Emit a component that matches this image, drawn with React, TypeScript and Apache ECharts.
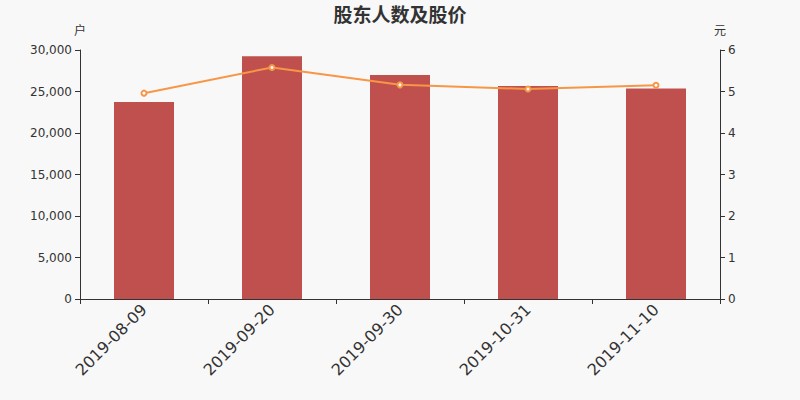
import React, { useEffect, useRef } from "react";
import * as echarts from "echarts";

const categories = ["2019-08-09", "2019-09-20", "2019-09-30", "2019-10-31", "2019-11-10"];
const holders = [23730, 29250, 27000, 25660, 25350];
const prices = [4.96, 5.58, 5.16, 5.06, 5.15];

export default function App() {
  const ref = useRef<HTMLDivElement>(null);
  useEffect(() => {
    if (!ref.current) return;
    const chart = echarts.init(ref.current, null, { renderer: "svg" });
    const axisText = { color: "#333", fontSize: 12, fontFamily: "DejaVu Sans" };
    chart.setOption({
      animation: false,
      backgroundColor: "#f8f8f8",
      title: {
        text: "股东人数及股价",
        left: "center",
        top: 0,
        padding: 0,
        textStyle: { fontSize: 19, fontWeight: "bold", color: "#333", fontFamily: "Noto Sans CJK SC", lineHeight: 26 },
      },
      grid: { left: 80, right: 80, top: 50, bottom: 101, containLabel: false },
      xAxis: {
        type: "category",
        data: categories,
        axisLine: { lineStyle: { color: "#333" } },
        axisTick: { show: true, length: 5, lineStyle: { color: "#333" } },
        axisLabel: { rotate: 45, fontSize: 16, color: "#333", fontFamily: "DejaVu Sans", margin: 8 },
      },
      yAxis: [
        {
          type: "value",
          name: "户",
          min: 0,
          max: 30000,
          interval: 5000,
          nameTextStyle: { color: "#333", fontSize: 12, fontFamily: "Noto Sans CJK SC" },
          axisLine: { show: true, lineStyle: { color: "#333" } },
          axisTick: { show: true, length: 5 },
          splitLine: { show: false },
          axisLabel: {
            ...axisText,
            formatter: (v: number) => v.toLocaleString("en-US"),
          },
        },
        {
          type: "value",
          name: "元",
          min: 0,
          max: 6,
          interval: 1,
          nameTextStyle: { color: "#333", fontSize: 12, fontFamily: "Noto Sans CJK SC" },
          axisLine: { show: true, lineStyle: { color: "#333" } },
          axisTick: { show: true, length: 5 },
          splitLine: { show: false },
          axisLabel: axisText,
        },
      ],
      series: [
        {
          type: "bar",
          data: holders,
          yAxisIndex: 0,
          barWidth: 60,
          itemStyle: { color: "#c0504d" },
        },
        {
          type: "line",
          data: prices,
          yAxisIndex: 1,
          symbol: "emptyCircle",
          symbolSize: 5,
          lineStyle: { color: "#f79646", width: 2 },
          itemStyle: { color: "#f79646", borderColor: "#f79646" },
        },
      ],
    });
    return () => chart.dispose();
  }, []);
  return <div ref={ref} style={{ position: "fixed", left: 0, top: 0, width: 800, height: 400 }} />;
}
